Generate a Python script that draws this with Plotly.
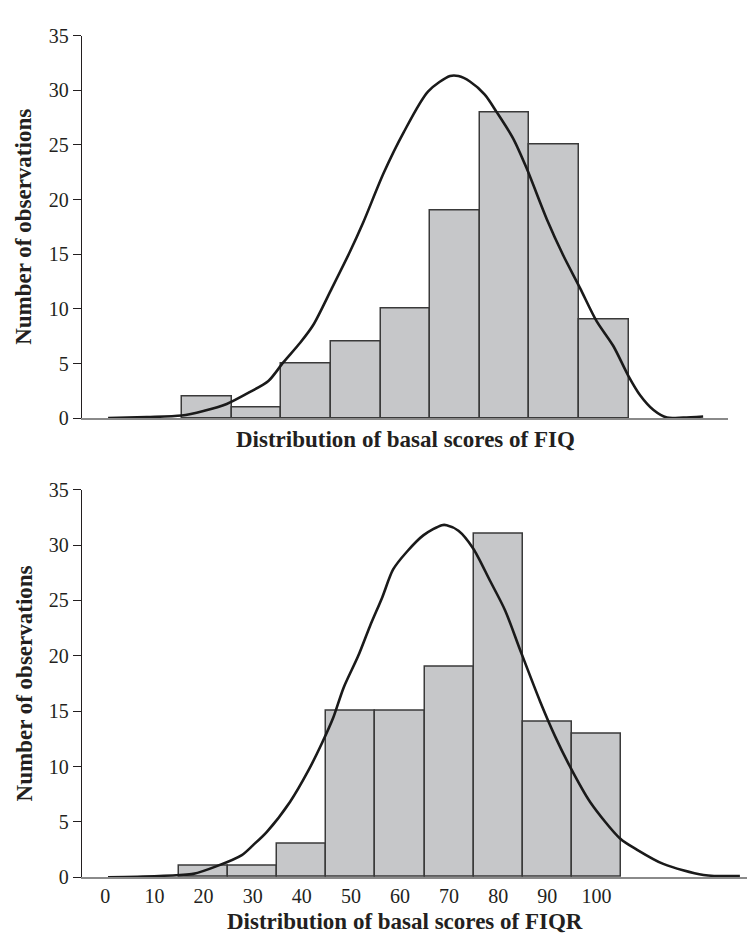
import plotly.graph_objects as go

# ---- data ----
bin_centers = [20, 30, 40, 50, 60, 70, 80, 90, 100]
fiq_counts = [2, 1, 5, 7, 10, 19, 28, 25, 9]
fiqr_counts = [1, 1, 3, 15, 15, 19, 31, 14, 13]

fiq_curve_x = [0.1, 7.9, 14.9, 19.3, 24.0, 28.7, 32.4, 35.4, 38.8, 41.4, 45.2, 48.8, 51.5,
               55.6, 59.6, 64.6, 69.0, 70.7, 73.0, 76.0, 78.4, 81.7, 84.4, 88.5, 91.8,
               95.2, 98.5, 101.9, 104.9, 107.3, 110.0, 112.7, 116.0, 120.0]
fiq_curve_y = [0.0, 0.1, 0.24, 0.66, 1.3, 2.4, 3.4, 5.1, 6.9, 8.5, 11.9, 15.2, 17.9,
               22.4, 26.1, 29.9, 31.3, 31.3, 30.8, 29.6, 28.0, 25.6, 22.9, 18.2, 14.9,
               11.9, 8.9, 6.6, 3.9, 2.1, 0.75, 0.06, 0.06, 0.15]

fiqr_curve_x = [0.55, 7.7, 15.2, 17.9, 22.7, 27.8, 30.1, 32.9, 37.6, 41.3, 44.1, 46.4, 48.5,
                51.5, 53.9, 56.4, 58.6, 61.4, 64.8, 68.5, 69.5, 71.9, 74.9, 78.3, 81.4,
                84.4, 88.5, 91.6, 94.6, 98.7, 104.8, 108.2, 113.6, 121.8, 129.2]
fiqr_curve_y = [0.0, 0.06, 0.2, 0.3, 1.0, 2.0, 2.9, 4.1, 6.8, 9.6, 12.1, 14.4, 17.1,
                20.0, 22.7, 25.3, 27.8, 29.4, 30.9, 31.8, 31.8, 31.3, 29.7, 26.8, 24.1,
                20.6, 15.9, 12.7, 10.0, 6.8, 3.5, 2.5, 1.2, 0.2, 0.1]

y_ticks = [0, 5, 10, 15, 20, 25, 30, 35]
x_ticks = [0, 10, 20, 30, 40, 50, 60, 70, 80, 90, 100]

top_title = "Distribution of basal scores of FIQ"
bottom_title = "Distribution of basal scores of FIQR"
y_title = "Number of observations"

# ---- styles ----
FONT = "Liberation Serif"
TXT = "#231f20"
BAR_FILL = "#c6c7c9"
BAR_LINE = "#3a3a3a"

W, H = 755, 943
OFF = 8  # default page body margin


def px(p):
    return (p - OFF) / W


def py(p):
    return 1 - (p - OFF) / H


fig = go.Figure()

fig.add_trace(go.Bar(x=bin_centers, y=fiq_counts, width=10,
                     marker=dict(color=BAR_FILL, line=dict(color=BAR_LINE, width=1.5)),
                     xaxis="x", yaxis="y", showlegend=False))
fig.add_trace(go.Scatter(x=fiq_curve_x, y=fiq_curve_y, mode="lines",
                         line=dict(color="#1a1a1a", width=2.6, shape="spline", smoothing=0.8),
                         xaxis="x", yaxis="y", showlegend=False))
fig.add_trace(go.Bar(x=bin_centers, y=fiqr_counts, width=10,
                     marker=dict(color=BAR_FILL, line=dict(color=BAR_LINE, width=1.5)),
                     xaxis="x2", yaxis="y2", showlegend=False))
fig.add_trace(go.Scatter(x=fiqr_curve_x, y=fiqr_curve_y, mode="lines",
                         line=dict(color="#1a1a1a", width=2.6, shape="spline", smoothing=0.8),
                         xaxis="x2", yaxis="y2", showlegend=False))

tickfont = dict(family=FONT, size=20, color=TXT)

yax_common = dict(range=[0, 35], tickvals=y_ticks, showgrid=False, zeroline=False,
                  showline=True, linecolor="#231f20", linewidth=1.3,
                  ticks="outside", ticklen=8, tickwidth=1.3, tickcolor="#231f20",
                  tickfont=tickfont, fixedrange=True)
yax_inner = dict(range=[0, 35], tickvals=y_ticks, showgrid=False, zeroline=False,
                 showline=False, ticks="inside", ticklen=8, tickwidth=1.3,
                 tickcolor="#231f20", showticklabels=False, fixedrange=True)

fig.update_layout(
    width=W, height=H,
    margin=dict(l=0, r=0, t=0, b=0),
    paper_bgcolor="white", plot_bgcolor="white",
    bargap=0, barmode="overlay",
    xaxis=dict(domain=[px(82), px(728.3)], range=[-5.16, 125.07], anchor="y",
               showgrid=False, zeroline=False, showline=True, linecolor="#8a8a8a",
               linewidth=1.5, ticks="", showticklabels=False, fixedrange=True),
    yaxis=dict(domain=[py(416.7), py(25)], anchor="x", **yax_common),
    yaxis3=dict(overlaying="y", anchor="x", **yax_inner),
    xaxis2=dict(domain=[px(82), 1.0], range=[-4.74, 133.9], anchor="y2",
                showgrid=False, zeroline=False, showline=True, linecolor="#8a8a8a",
                linewidth=1.5, ticks="", tickvals=x_ticks, tickfont=tickfont,
                fixedrange=True),
    yaxis2=dict(domain=[py(886.7), py(490)], anchor="x2", **yax_common),
    yaxis4=dict(overlaying="y2", anchor="x2", **yax_inner),
    font=dict(family=FONT, color=TXT),
)

title_font = dict(family=FONT, size=23, color=TXT)
fig.add_annotation(text="<b>" + top_title + "</b>", xref="paper", yref="paper",
                   x=px(405), y=py(439), xanchor="center", yanchor="middle",
                   showarrow=False, font=title_font)
fig.add_annotation(text="<b>" + bottom_title + "</b>", xref="paper", yref="paper",
                   x=px(405), y=py(932), xanchor="center", yanchor="middle",
                   showarrow=False, font=title_font)
fig.add_annotation(text="<b>" + y_title + "</b>", xref="paper", yref="paper",
                   x=px(24), y=py(220.8), xanchor="center", yanchor="middle",
                   textangle=-90, showarrow=False, font=title_font)
fig.add_annotation(text="<b>" + y_title + "</b>", xref="paper", yref="paper",
                   x=px(24), y=py(688.3), xanchor="center", yanchor="middle",
                   textangle=-90, showarrow=False, font=title_font)

fig.write_html("out.html")
